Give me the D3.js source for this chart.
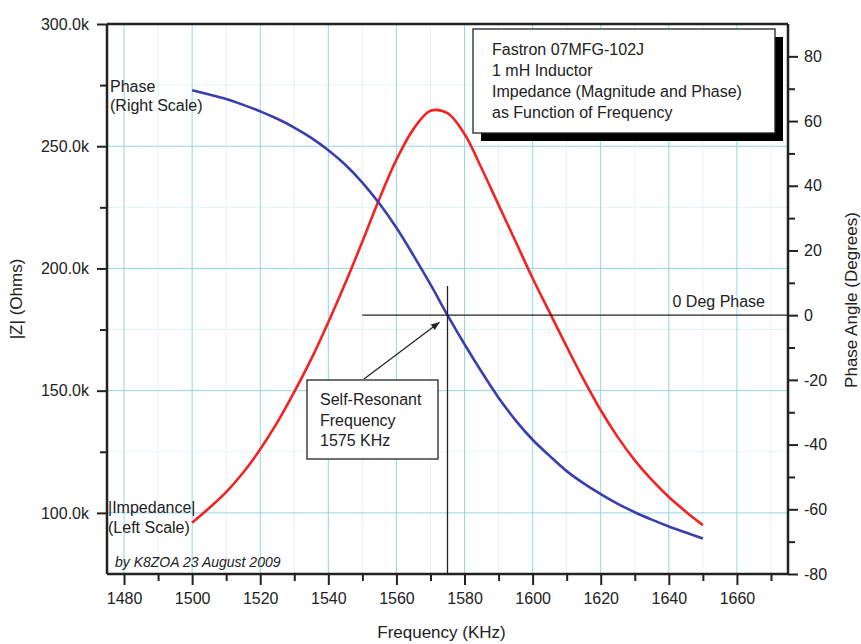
<!DOCTYPE html>
<html>
<head>
<meta charset="utf-8">
<script src="https://cdn.jsdelivr.net/npm/d3@7"></script>
<style>
  body { margin: 0; background: #fff; }
  text { font-family: "Liberation Sans", Arial, sans-serif; fill: #222; }
</style>
</head>
<body>
<div id="chart"></div>
<script>
// frequency points (KHz)
var FREQS = [1500, 1505, 1510, 1515, 1520, 1525, 1530, 1535, 1540, 1545,
             1550, 1555, 1560, 1565, 1570, 1575, 1580, 1585, 1590, 1595,
             1600, 1605, 1610, 1615, 1620, 1625, 1630, 1635, 1640, 1645, 1650];
// |Z| in ohms
var IMPEDANCE = [96000, 102000, 108500, 116500, 126000, 137000, 149500, 163000, 178000, 194000,
                 211000, 228500, 244500, 257000, 264500, 263500, 255000, 241000, 226000, 211000,
                 196000, 182000, 168000, 154500, 142000, 131000, 121500, 113500, 106500, 100500, 95000];
// phase angle in degrees
var PHASE = [69.5, 68.2, 66.8, 65, 63, 60.7, 58, 54.8, 51, 46.5,
             41, 34.5, 27, 18.5, 9.5, 0, -9, -17.5, -25.5, -32.5,
             -38.5, -43.5, -48.2, -52, -55.3, -58.3, -60.9, -63.2, -65.3, -67.2, -69];

var X_TICKS = [1480, 1500, 1520, 1540, 1560, 1580, 1600, 1620, 1640, 1660];
var X_MINOR = [1490, 1510, 1530, 1550, 1570, 1590, 1610, 1630, 1650, 1670];
var Z_TICKS = [100000, 150000, 200000, 250000, 300000];
var Z_MINOR = [125000, 175000, 225000, 275000];
var PH_TICKS = [-80, -60, -40, -20, 0, 20, 40, 60, 80];
var PH_MINOR = [-70, -50, -30, -10, 10, 30, 50, 70];

var TITLE_LINES = ["Fastron 07MFG-102J", "1 mH Inductor",
                   "Impedance (Magnitude and Phase)", "as Function of Frequency"];
var SRF_LINES = ["Self-Resonant", "Frequency", "1575 KHz"];
var SRF = 1575;

var ImpedanceChart = {
  W: 861,
  H: 644,
  L: 107, R: 788, T: 24, B: 574,

  svg: null, x: null, yz: null, yp: null,

  init: function(){
    this.svg = d3.select("#chart").append("svg")
      .attr("width", this.W)
      .attr("height", this.H);
    this.x = d3.scaleLinear().domain([1475, 1675]).range([this.L, this.R]);
    this.yz = d3.scaleLinear().domain([75000, 300000]).range([this.B, this.T]);
    this.yp = d3.scaleLinear().domain([-80, 90]).range([this.B, this.T]);

    var defs = this.svg.append("defs");
    defs.append("marker")
      .attr("id", "arrow")
      .attr("viewBox", "0 0 10 10")
      .attr("refX", 10).attr("refY", 5)
      .attr("markerWidth", 9).attr("markerHeight", 7)
      .attr("orient", "auto")
      .append("path").attr("d", "M0,1 L10,5 L0,9 z").attr("fill", "#222");

    this.drawGrid();
    this.drawLines();
    this.drawAxes();
    this.drawNotes();
  },

  drawGrid: function(){
    var that = this, g = this.svg.append("g");
    // faint minor grid
    g.selectAll(".vm").data(X_MINOR.filter(function(d){ return d < 1675; }))
      .enter().append("line")
      .attr("x1", this.x).attr("x2", this.x)
      .attr("y1", this.T).attr("y2", this.B)
      .attr("stroke", "#e3f3f6");
    g.selectAll(".hm").data(Z_MINOR)
      .enter().append("line")
      .attr("x1", this.L).attr("x2", this.R)
      .attr("y1", this.yz).attr("y2", this.yz)
      .attr("stroke", "#e3f3f6");
    // major grid
    g.selectAll(".v").data(X_TICKS)
      .enter().append("line")
      .attr("x1", this.x).attr("x2", this.x)
      .attr("y1", this.T).attr("y2", this.B)
      .attr("stroke", "#93d6e4");
    g.selectAll(".h").data(Z_TICKS.slice(0, -1))
      .enter().append("line")
      .attr("x1", this.L).attr("x2", this.R)
      .attr("y1", function(d){ return that.yz(d); })
      .attr("y2", function(d){ return that.yz(d); })
      .attr("stroke", "#93d6e4");
  },

  drawLines: function(){
    var that = this;
    var zLine = d3.line()
      .x(function(d, i){ return that.x(FREQS[i]); })
      .y(function(d){ return that.yz(d); })
      .curve(d3.curveCatmullRom.alpha(0.5));
    var pLine = d3.line()
      .x(function(d, i){ return that.x(FREQS[i]); })
      .y(function(d){ return that.yp(d); })
      .curve(d3.curveCatmullRom.alpha(0.5));

    this.svg.append("path").datum(IMPEDANCE)
      .attr("d", zLine)
      .attr("fill", "none")
      .attr("stroke", "#f42222")
      .attr("stroke-width", 2.6);
    this.svg.append("path").datum(PHASE)
      .attr("d", pLine)
      .attr("fill", "none")
      .attr("stroke", "#3b3fae")
      .attr("stroke-width", 2.6);
  },

  drawAxes: function(){
    var that = this;
    var styleAxis = function(g){
      g.select(".domain").remove();
      g.selectAll(".tick line").attr("stroke", "#222").attr("stroke-width", 2);
      g.selectAll(".tick text").attr("font-size", 16).attr("fill", "#222")
        .attr("font-family", "Liberation Sans, Arial, sans-serif");
    };

    // left |Z|
    this.svg.append("g").attr("transform", "translate(" + this.L + ",0)")
      .call(d3.axisLeft(this.yz).tickValues(Z_TICKS).tickSize(10).tickPadding(8)
        .tickFormat(function(d){ return (d / 1000).toFixed(1) + "k"; }))
      .call(styleAxis);
    this.svg.append("g").attr("transform", "translate(" + this.L + ",0)")
      .call(d3.axisLeft(this.yz).tickValues(Z_MINOR).tickSize(7).tickFormat(""))
      .call(styleAxis);

    // bottom frequency
    this.svg.append("g").attr("transform", "translate(0," + this.B + ")")
      .call(d3.axisBottom(this.x).tickValues(X_TICKS).tickSize(11).tickPadding(8)
        .tickFormat(String))
      .call(styleAxis);
    this.svg.append("g").attr("transform", "translate(0," + this.B + ")")
      .call(d3.axisBottom(this.x).tickValues(X_MINOR).tickSize(7).tickFormat(""))
      .call(styleAxis);

    // right phase, plain hyphen for negatives like the original
    this.svg.append("g").attr("transform", "translate(" + this.R + ",0)")
      .call(d3.axisRight(this.yp).tickValues(PH_TICKS).tickSize(10).tickPadding(6)
        .tickFormat(String))
      .call(styleAxis);
    this.svg.append("g").attr("transform", "translate(" + this.R + ",0)")
      .call(d3.axisRight(this.yp).tickValues(PH_MINOR).tickSize(7).tickFormat(""))
      .call(styleAxis);

    // frame
    var frame = this.svg.append("g").attr("stroke", "#222").attr("stroke-width", 2.5);
    frame.append("line").attr("x1", this.L).attr("x2", this.L).attr("y1", this.T).attr("y2", this.B);
    frame.append("line").attr("x1", this.R).attr("x2", this.R).attr("y1", this.T).attr("y2", this.B);
    frame.append("line").attr("x1", this.L).attr("x2", this.R).attr("y1", this.T).attr("y2", this.T);
    frame.append("line").attr("x1", this.L).attr("x2", this.R).attr("y1", this.B).attr("y2", this.B);

    // axis titles
    this.svg.append("text")
      .attr("transform", "translate(22," + ((this.T + this.B) / 2) + ") rotate(-90)")
      .attr("text-anchor", "middle").attr("font-size", 17)
      .text("|Z| (Ohms)");
    this.svg.append("text")
      .attr("transform", "translate(857,300) rotate(-90)")
      .attr("text-anchor", "middle").attr("font-size", 17)
      .text("Phase Angle (Degrees)");
    this.svg.append("text")
      .attr("x", (this.L + this.R) / 2 - 6).attr("y", 638)
      .attr("text-anchor", "middle").attr("font-size", 17)
      .text("Frequency (KHz)");
  },

  drawNotes: function(){
    var that = this;
    var x0 = this.x(SRF), y0 = this.yp(0);

    // 0 deg phase line and SRF marker
    this.svg.append("line")
      .attr("x1", this.x(1550)).attr("x2", this.R)
      .attr("y1", y0).attr("y2", y0)
      .attr("stroke", "#222").attr("stroke-width", 1.3);
    this.svg.append("line")
      .attr("x1", x0).attr("x2", x0)
      .attr("y1", this.yp(9)).attr("y2", this.B)
      .attr("stroke", "#222").attr("stroke-width", 1.3);
    this.svg.append("text")
      .attr("x", 765).attr("y", y0 - 8)
      .attr("text-anchor", "end").attr("font-size", 16)
      .text("0 Deg Phase");

    // series labels
    var notes = this.svg.append("g").attr("font-size", 16);
    notes.append("text").attr("x", 110).attr("y", 92).text("Phase");
    notes.append("text").attr("x", 110).attr("y", 111).text("(Right Scale)");
    notes.append("text").attr("x", 108).attr("y", 513).text("|Impedance|");
    notes.append("text").attr("x", 108).attr("y", 533).text("(Left Scale)");
    this.svg.append("text")
      .attr("x", 115).attr("y", 567)
      .attr("font-size", 14).attr("font-style", "italic")
      .text("by K8ZOA 23 August 2009");

    // self-resonant callout
    this.svg.append("line")
      .attr("x1", 364).attr("y1", 379)
      .attr("x2", x0 - 8).attr("y2", y0 + 7)
      .attr("stroke", "#222").attr("stroke-width", 1.2)
      .attr("marker-end", "url(#arrow)");
    this.svg.append("rect")
      .attr("x", 307).attr("y", 380).attr("width", 131).attr("height", 79)
      .attr("fill", "#fff").attr("stroke", "#222").attr("stroke-width", 1.3);
    this.svg.append("g").attr("font-size", 16)
      .selectAll("text").data(SRF_LINES)
      .enter().append("text")
      .attr("x", 320)
      .attr("y", function(d, i){ return 405 + i * 20.5; })
      .text(String);

    // title box with drop shadow
    this.svg.append("rect")
      .attr("x", 481).attr("y", 37).attr("width", 302).attr("height", 104)
      .attr("fill", "#000");
    this.svg.append("rect")
      .attr("x", 473).attr("y", 29).attr("width", 302).attr("height", 104)
      .attr("fill", "#fff").attr("stroke", "#222").attr("stroke-width", 1.3);
    this.svg.append("g").attr("font-size", 16)
      .selectAll("text").data(TITLE_LINES)
      .enter().append("text")
      .attr("x", 492)
      .attr("y", function(d, i){ return 55 + i * 21; })
      .text(String);
  }
};

ImpedanceChart.init();
</script>
</body>
</html>
